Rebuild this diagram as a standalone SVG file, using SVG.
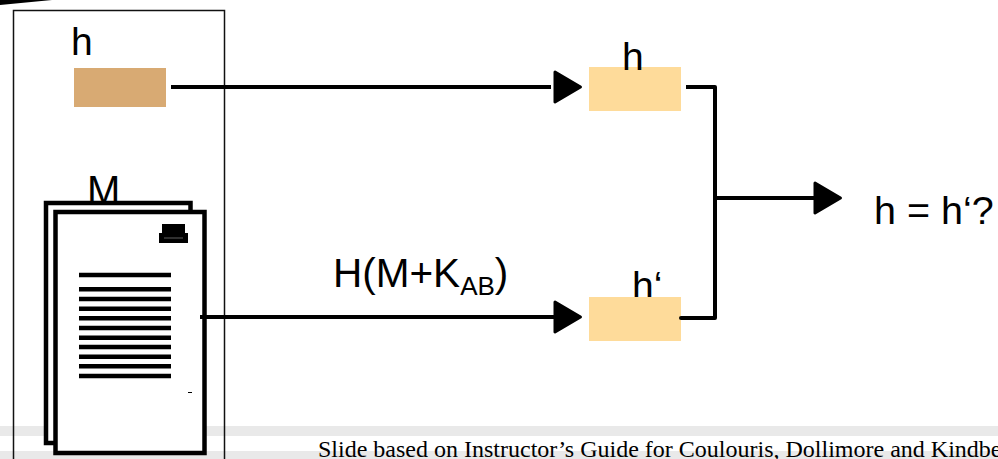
<svg xmlns="http://www.w3.org/2000/svg" width="998" height="459" viewBox="0 0 998 459">
<style>
.t{font-family:"Liberation Sans",Arial,sans-serif;font-size:39px;fill:#000}
.c{fill:none;stroke:#000;stroke-width:4;stroke-linejoin:round}
.a{fill:#000;stroke:#000;stroke-width:3;stroke-linejoin:round}
.l{fill:none;stroke:#000;stroke-width:4.400}
.p{fill:#fff;stroke:#000;stroke-width:4.500}
</style>
<rect width="998" height="459" fill="#fff"/>
<g id="footer-bands">
<rect x="0" y="426" width="998" height="10" fill="#e9e9e9"/>
<rect x="0" y="451" width="998" height="8" fill="#e9e9e9"/>
</g>
<path id="corner-mark" d="M0 5L52 0L0 0Z" fill="#000"/>
<g id="sender-frame"><rect x="13.500" y="10.500" width="211" height="460" fill="none" stroke="#111" stroke-width="1.500"/></g>
<g id="node-h-source">
<rect x="74" y="68" width="92" height="39" fill="#d8aa73"/>
<text class="t" x="71" y="55">h</text>
</g>
<g id="node-document">
<text class="t" x="87" y="204" style="font-size:40px">M</text>
<rect class="p" x="46" y="203" width="144.500" height="240"/>
<rect class="p" x="55.500" y="212" width="149" height="241"/>
<path d="M162 224H185V233H188V243H159V233H162Z" fill="#000"/>
<path d="M164 238H183" stroke="#888" stroke-width="0.700"/>
<g class="l">
<path d="M79 275H171M79 289.300H171M79 299H171M79 308.700H171M79 318.300H171M79 328H171M79 337.700H171M79 347H171M79 356.700H171M79 366.300H171M79 376H171"/>
</g>
<path d="M188 392.500H192" stroke="#000" stroke-width="1"/>
</g>
<g id="node-h-received">
<rect x="589" y="67" width="92" height="44" fill="#fedb9a"/>
<text class="t" x="622" y="70">h</text>
</g>
<g id="node-h-computed">
<text class="t" x="632" y="299">h‘</text>
<rect x="589" y="297" width="92" height="44" fill="#fedb9a"/>
</g>
<g id="connectors">
<path class="c" d="M171 87H551"/>
<path class="a" d="M555 72L580.500 87L555 102Z"/>
<path class="c" d="M200 317H555"/>
<path class="a" d="M555 302L580.500 317L555 332Z"/>
<path class="c" d="M686 87H715V318H681"/>
<circle cx="681" cy="318" r="2" fill="#000"/>
<path class="c" d="M715 198H814"/>
<path class="a" d="M815 183L840.500 198L815 213Z"/>
</g>
<text class="t" x="333" y="287" style="font-size:40.500px">H(M+K<tspan style="font-size:26px" dy="8">AB</tspan><tspan dy="-8">)</tspan></text>
<text class="t" x="874" y="224" style="font-size:39.500px">h = h‘?</text>
<text x="318" y="457" font-family="'Liberation Serif','Times New Roman',serif" font-size="24" fill="#000">Slide based on Instructor’s Guide for Coulouris, Dollimore and Kindbe</text>
</svg>
